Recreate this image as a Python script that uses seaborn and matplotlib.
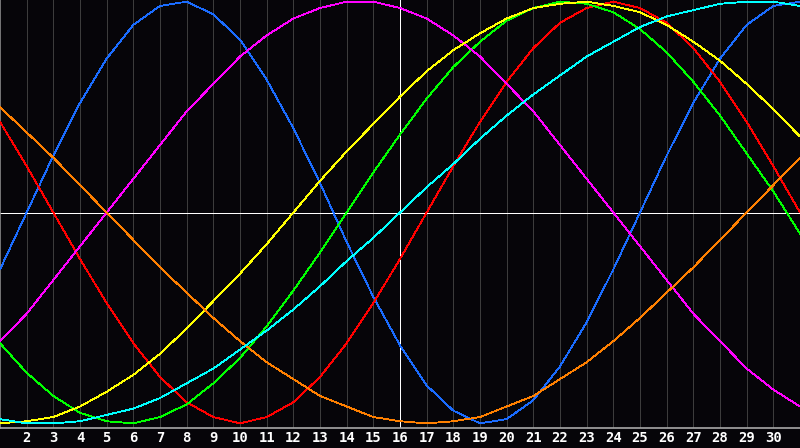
import pandas as pd
import matplotlib
matplotlib.use("Agg")
import matplotlib.pyplot as plt
import seaborn as sns

# biorhythm chart, days of the month, values in percent
days = list(range(1, 32))
today = 16
tick_days = list(range(2, 31))

physical = [-27, 0, 27, 52, 73, 89, 98, 100, 94, 82, 63, 40, 14, -14, -40, -63,
            -82, -94, -100, -98, -89, -73, -52, -27, 0, 27, 52, 73, 89, 98, 100]
emotional = [43, 22, 0, -22, -43, -62, -78, -90, -97, -100, -97, -90, -78, -62, -43, -22,
             0, 22, 43, 62, 78, 90, 97, 100, 97, 90, 78, 62, 43, 22, 0]
intellectual = [-62, -76, -87, -95, -99, -100, -97, -91, -81, -69, -54, -37, -19, 0, 19, 37,
                54, 69, 81, 91, 97, 100, 99, 95, 87, 76, 62, 46, 28, 10, -10]
intuitive = [-61, -48, -32, -16, 0, 16, 32, 48, 61, 74, 84, 92, 97, 100, 100, 97,
             92, 84, 74, 61, 48, 32, 16, 0, -16, -32, -48, -61, -74, -84, -92]
aesthetic = [-100, -99, -97, -92, -85, -77, -67, -55, -42, -29, -15, 0, 15, 29, 42, 55,
             67, 77, 85, 92, 97, 99, 100, 98, 95, 89, 81, 72, 61, 49, 36]
awareness = [50, 38, 26, 13, 0, -13, -26, -38, -50, -61, -71, -79, -87, -92, -97, -99,
             -100, -99, -97, -92, -87, -79, -71, -61, -50, -38, -26, -13, 0, 13, 26]
spiritual = [-98, -100, -100, -99, -96, -93, -88, -81, -74, -65, -56, -46, -35, -23, -12, 0,
             12, 23, 35, 46, 56, 65, 74, 81, 88, 93, 96, 99, 100, 100, 98]

cycles = {
    "physical": physical,
    "emotional": emotional,
    "intellectual": intellectual,
    "intuitive": intuitive,
    "aesthetic": aesthetic,
    "awareness": awareness,
    "spiritual": spiritual,
}
colors = {
    "physical": "#1a6cff",
    "emotional": "#ff0000",
    "intellectual": "#00ff00",
    "intuitive": "#ff00ff",
    "aesthetic": "#ffff00",
    "awareness": "#ff8000",
    "spiritual": "#00ffff",
}

rows = []
for name, vals in cycles.items():
    for d, v in zip(days, vals):
        rows.append({"day": d, "value": v, "cycle": name})
df = pd.DataFrame(rows)

sns.set_theme(style="dark", rc={
    "axes.facecolor": "#060509",
    "figure.facecolor": "#060509",
    "lines.antialiased": False,
})
plt.rcParams["font.family"] = ["DejaVu Sans Mono", "DejaVu Sans"]

fig = plt.figure(figsize=(8, 4.48), dpi=100)
ax = fig.add_axes([0, 20 / 448, 1, 428 / 448])

for d in tick_days:
    ax.axvline(d, color="#3c3c3c", lw=0.6, zorder=1)

sns.lineplot(data=df, x="day", y="value", hue="cycle", palette=colors,
             estimator=None, legend=False, lw=0.6, ax=ax, zorder=3)

ax.axvline(today, color="white", lw=0.6, zorder=2)
ax.axhline(0, color="white", lw=0.6, zorder=2)

ax.set_xlim(1, 31)
ax.set_ylim(-102.2, 100.8)
ax.set_xticks(tick_days)
ax.set_xticklabels([str(d) for d in tick_days], fontsize=10, fontweight="bold", color="white")
ax.tick_params(axis="x", length=0, pad=2)
ax.set_yticks([])
ax.set_xlabel("")
ax.set_ylabel("")
ax.grid(False)

for side in ["top", "right"]:
    ax.spines[side].set_visible(False)
ax.spines["left"].set_color("#8a8a8a")
ax.spines["bottom"].set_color("#a8a8a8")
ax.spines["left"].set_linewidth(1.2)
ax.spines["bottom"].set_linewidth(1.2)

fig.savefig("out.png", dpi=100, facecolor=fig.get_facecolor())
